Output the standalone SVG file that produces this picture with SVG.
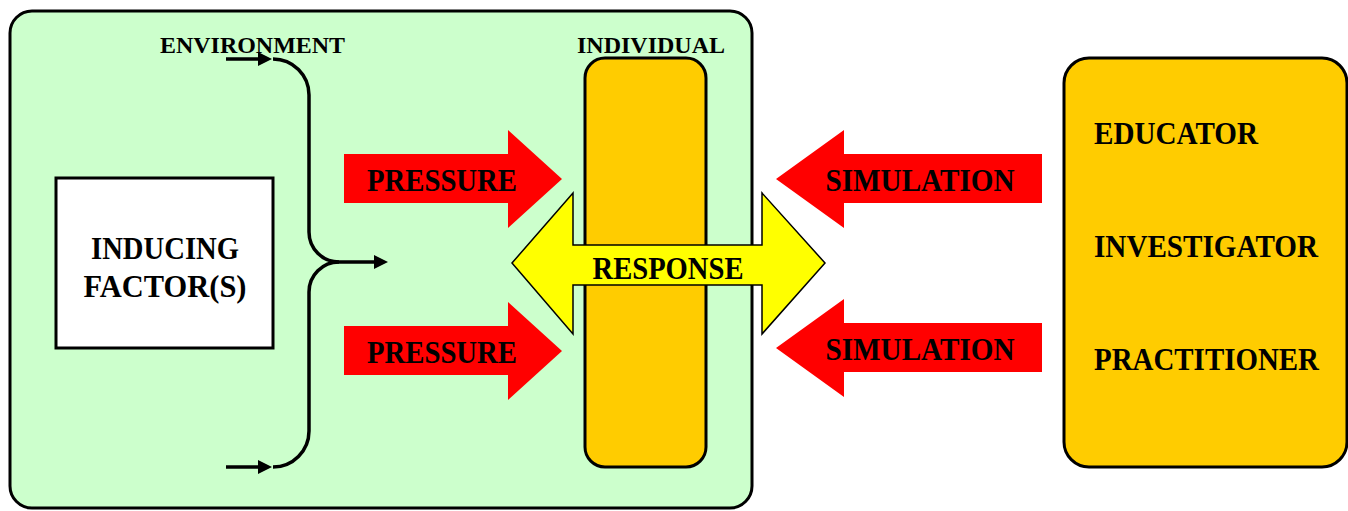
<svg xmlns="http://www.w3.org/2000/svg" width="1348" height="511" viewBox="0 0 1348 511">
<style>
text{font-family:"Liberation Serif","Times New Roman",serif;font-weight:bold;fill:#000}
.big{font-size:31px}
.small{font-size:24px}
.box{stroke:#000;stroke-width:3}
.red{fill:#FF0000}
.line{fill:none;stroke:#000;stroke-width:3.5}
.head{fill:#000}
</style>
<rect width="1348" height="511" fill="#fff"/>
<g id="environment">
<rect class="box" x="10" y="11" width="742" height="497" rx="22" fill="#CCFFCC"/>
<text class="small" x="160" y="53" textLength="185" lengthAdjust="spacingAndGlyphs">ENVIRONMENT</text>
</g>
<g id="inducing">
<rect class="box" x="56" y="178" width="217" height="170" fill="#fff"/>
<text class="big" x="165" y="259" text-anchor="middle" textLength="148" lengthAdjust="spacingAndGlyphs">INDUCING</text>
<text class="big" x="165" y="297" text-anchor="middle" textLength="163" lengthAdjust="spacingAndGlyphs">FACTOR(S)</text>
</g>
<g id="individual">
<rect class="box" x="585" y="58" width="121" height="409" rx="20" fill="#FFCC00"/>
<text class="small" x="577" y="53" textLength="148" lengthAdjust="spacingAndGlyphs">INDIVIDUAL</text>
</g>
<g id="roles">
<rect class="box" x="1064" y="58" width="283" height="409" rx="25" fill="#FFCC00"/>
<text class="big" x="1094" y="144" textLength="164" lengthAdjust="spacingAndGlyphs">EDUCATOR</text>
<text class="big" x="1094" y="257" textLength="224" lengthAdjust="spacingAndGlyphs">INVESTIGATOR</text>
<text class="big" x="1094" y="370" textLength="225" lengthAdjust="spacingAndGlyphs">PRACTITIONER</text>
</g>
<g id="connectors">
<path class="line" d="M226,59 L260,59"/>
<path class="head" d="M258,52 L272,59 L258,66 z"/>
<path class="line" d="M273,59 A36,36 0 0 1 309,95 L309,232 A30,30 0 0 0 339,262 L376,262"/>
<path class="head" d="M374,255 L388,262 L374,269 z"/>
<path class="line" d="M339,262 A30,30 0 0 0 309,292 L309,431 A36,36 0 0 1 273,467"/>
<path class="line" d="M226,467 L260,467"/>
<path class="head" d="M258,460 L272,467 L258,474 z"/>
<g id="pressure1">
<path class="red" d="M344,154 L508,154 L508,130 L562,179 L508,228 L508,203 L344,203 z"/>
<text class="big" x="442" y="191" text-anchor="middle" textLength="150" lengthAdjust="spacingAndGlyphs">PRESSURE</text>
</g>
<g id="pressure2">
<path class="red" d="M344,326 L508,326 L508,302 L562,351 L508,400 L508,375 L344,375 z"/>
<text class="big" x="442" y="363" text-anchor="middle" textLength="150" lengthAdjust="spacingAndGlyphs">PRESSURE</text>
</g>
<g id="simulation1">
<path class="red" d="M1042,154 L844,154 L844,130 L776,179 L844,228 L844,203 L1042,203 z"/>
<text class="big" x="920" y="191" text-anchor="middle" textLength="189" lengthAdjust="spacingAndGlyphs">SIMULATION</text>
</g>
<g id="simulation2">
<path class="red" d="M1042,323 L844,323 L844,299 L776,348 L844,397 L844,372 L1042,372 z"/>
<text class="big" x="920" y="360" text-anchor="middle" textLength="189" lengthAdjust="spacingAndGlyphs">SIMULATION</text>
</g>
<g id="response">
<path d="M512,263 L573,193 L573,245 L762,245 L762,193 L825,263 L762,334 L762,285 L573,285 L573,334 z" fill="#FFFF00" stroke="#000" stroke-width="1.5"/>
<text class="big" x="668" y="279" text-anchor="middle" textLength="151" lengthAdjust="spacingAndGlyphs">RESPONSE</text>
</g>
</g>
</svg>
